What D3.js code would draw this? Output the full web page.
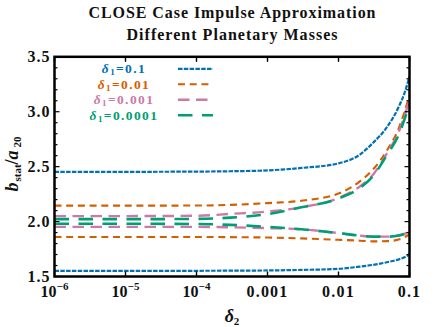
<!DOCTYPE html>
<html>
<head>
<meta charset="utf-8">
<script src="https://cdn.jsdelivr.net/npm/d3@7"></script>
<style>
  html, body { margin: 0; padding: 0; background: #fff; }
  svg { display: block; font-family: "Liberation Serif", "DejaVu Serif", serif; font-weight: bold; }
</style>
</head>
<body>
<div id="chart"></div>
<script>
const delta2 = [1e-6, 1e-5, 1e-4, 3e-4, 1e-3, 3e-3, 0.01, 0.02, 0.03, 0.05, 0.07, 0.085, 0.1];

// b_stat / a_20, upper and lower branch for each delta_1
const d1_0p1_upper    = [2.453, 2.453, 2.455, 2.458, 2.466, 2.488, 2.53, 2.61, 2.711, 2.875, 3.04, 3.17, 3.32];
const d1_0p1_lower    = [1.551, 1.551, 1.552, 1.553, 1.555, 1.56, 1.57, 1.59, 1.605, 1.632, 1.655, 1.675, 1.70];
const d1_0p01_upper   = [2.145, 2.145, 2.146, 2.152, 2.168, 2.19, 2.255, 2.366, 2.468, 2.665, 2.844, 2.998, 3.15];
const d1_0p01_lower   = [1.86, 1.86, 1.86, 1.858, 1.855, 1.847, 1.834, 1.826, 1.82, 1.822, 1.836, 1.858, 1.885];
const d1_0p001_upper  = [2.05, 2.05, 2.053, 2.07, 2.091, 2.13, 2.215, 2.32, 2.42, 2.64, 2.81, 2.96, 3.11];
const d1_0p001_lower  = [1.952, 1.952, 1.952, 1.948, 1.94, 1.93, 1.895, 1.872, 1.863, 1.863, 1.873, 1.888, 1.912];
const d1_0p0001_upper = [2.022, 2.022, 2.024, 2.036, 2.068, 2.13, 2.21, 2.306, 2.407, 2.624, 2.785, 2.93, 3.07];
const d1_0p0001_lower = [1.98, 1.98, 1.978, 1.97, 1.952, 1.93, 1.895, 1.872, 1.863, 1.863, 1.873, 1.888, 1.912];

const legendLabels = ["0.1", "0.01", "0.001", "0.0001"];
const seriesColors = ["#0072B2", "#D55E00", "#CC79A7", "#009E73"];
const seriesDashes = ["4.5,1.3", "7,4.7", "11.5,6.5", "14.5,9.5"];
const seriesWidths = [2.2, 2.1, 2.4, 2.6];

const xTicks = [1e-6, 1e-5, 1e-4, 1e-3, 1e-2, 1e-1];
const xTickLabels = [["10", "\u22126"], ["10", "\u22125"], ["10", "\u22124"], ["0.001"], ["0.01"], ["0.1"]];
const yTicks = [1.5, 2.0, 2.5, 3.0, 3.5];

const W = 436, H = 327;
const plot = { left: 54.5, right: 409.5, top: 56.8, bottom: 276.5 };

const svg = d3.select("#chart").append("svg")
  .attr("width", W).attr("height", H);

const x = d3.scaleLog().domain([1e-6, 0.1]).range([plot.left, plot.right]);
const y = d3.scaleLinear().domain([1.5, 3.5]).range([plot.bottom, plot.top]);

// title
const titleLines = [
  { text: "CLOSE Case Impulse Approximation", y: 17.5, len: 287 },
  { text: "Different Planetary Masses", y: 40, len: 211 }
];
svg.selectAll(".title").data(titleLines).enter().append("text")
  .attr("class", "title")
  .attr("x", (plot.left + plot.right) / 2)
  .attr("y", d => d.y)
  .attr("text-anchor", "middle")
  .attr("font-size", 16)
  .attr("textLength", d => d.len)
  .attr("lengthAdjust", "spacing")
  .attr("fill", "#111")
  .text(d => d.text);

// clip
svg.append("clipPath").attr("id", "clip")
  .append("rect")
  .attr("x", plot.left).attr("y", plot.top)
  .attr("width", plot.right - plot.left).attr("height", plot.bottom - plot.top);

// curves
const groups = [
  [d1_0p1_upper, d1_0p1_lower],
  [d1_0p01_upper, d1_0p01_lower],
  [d1_0p001_upper, d1_0p001_lower],
  [d1_0p0001_upper, d1_0p0001_lower]
];

const line = d3.line()
  .x(d => x(d[0]))
  .y(d => y(d[1]))
  .curve(d3.curveMonotoneX);

const curves = svg.append("g").attr("clip-path", "url(#clip)");
groups.forEach((pair, i) => {
  pair.forEach(vals => {
    curves.append("path")
      .datum(delta2.map((d, k) => [d, vals[k]]))
      .attr("d", line)
      .attr("fill", "none")
      .attr("stroke", seriesColors[i])
      .attr("stroke-width", seriesWidths[i])
      .attr("stroke-dasharray", seriesDashes[i]);
  });
});

// frame ticks
const ticks = svg.append("g").attr("stroke", "#000");
const yMinor = d3.range(15, 36).map(v => v / 10);
yMinor.forEach(v => {
  const major = Math.abs(v * 2 - Math.round(v * 2)) < 1e-6;
  const len = major ? 5 : 3;
  ticks.append("line")
    .attr("x1", plot.left).attr("x2", plot.left + len)
    .attr("y1", y(v)).attr("y2", y(v)).attr("stroke-width", 1.2);
  ticks.append("line")
    .attr("x1", plot.right).attr("x2", plot.right - len)
    .attr("y1", y(v)).attr("y2", y(v)).attr("stroke-width", 1.2);
});
xTicks.forEach(v => {
  ticks.append("line")
    .attr("x1", x(v)).attr("x2", x(v))
    .attr("y1", plot.bottom).attr("y2", plot.bottom - 5).attr("stroke-width", 1.4);
  ticks.append("line")
    .attr("x1", x(v)).attr("x2", x(v))
    .attr("y1", plot.top).attr("y2", plot.top + 5).attr("stroke-width", 1.4);
});

// frame
svg.append("rect")
  .attr("x", plot.left).attr("y", plot.top)
  .attr("width", plot.right - plot.left).attr("height", plot.bottom - plot.top)
  .attr("fill", "none")
  .attr("stroke", "#000")
  .attr("stroke-width", 2.5);

// y tick labels
svg.selectAll(".ylab").data(yTicks).enter().append("text")
  .attr("class", "ylab")
  .attr("x", plot.left - 4)
  .attr("y", d => y(d) + 5.5)
  .attr("text-anchor", "end")
  .attr("font-size", 16)
  .attr("letter-spacing", 1)
  .attr("fill", "#111")
  .text(d => d.toFixed(1));

// x tick labels
xTicks.forEach((v, i) => {
  const lab = xTickLabels[i];
  const t = svg.append("text")
    .attr("x", x(v))
    .attr("y", 296.5)
    .attr("text-anchor", "middle")
    .attr("font-size", 16)
    .attr("letter-spacing", lab.length > 1 ? 0 : 1.2)
    .attr("fill", "#111");
  t.append("tspan").text(lab[0]);
  if (lab.length > 1) {
    t.append("tspan").attr("font-size", 11).attr("dy", -7).text(lab[1]);
  }
});

// x axis title
const xt = svg.append("text")
  .attr("x", 232).attr("y", 322)
  .attr("text-anchor", "middle")
  .attr("fill", "#111");
xt.append("tspan").attr("font-style", "italic").attr("font-size", 18).text("\u03b4");
xt.append("tspan").attr("font-size", 11).attr("dy", 3).text("2");

// y axis title
const yt = svg.append("text")
  .attr("transform", "translate(18,164) rotate(-90)")
  .attr("text-anchor", "middle")
  .attr("fill", "#111");
yt.append("tspan").attr("font-style", "italic").attr("font-size", 18).text("b");
yt.append("tspan").attr("font-size", 11).attr("dy", 3).attr("dx", 1).text("stat");
yt.append("tspan").attr("font-size", 18).attr("dy", -3).text("/");
yt.append("tspan").attr("font-style", "italic").attr("font-size", 18).text("a");
yt.append("tspan").attr("font-size", 11).attr("dy", 3).attr("dx", 3).text("20");

// legend
const legendRows = [68.8, 84.3, 99.8, 115.3];
legendLabels.forEach((lab, i) => {
  const t = svg.append("text")
    .attr("x", 124).attr("y", legendRows[i] + 4.6)
    .attr("text-anchor", "middle")
    .attr("font-size", 13.5)
    .attr("letter-spacing", 1.4)
    .attr("fill", seriesColors[i]);
  t.append("tspan").attr("font-style", "italic").text("\u03b4");
  t.append("tspan").attr("font-size", 9).attr("dy", 2).text("1");
  t.append("tspan").attr("dy", -2).text("=" + lab);

  svg.append("line")
    .attr("x1", 178).attr("x2", 213)
    .attr("y1", legendRows[i]).attr("y2", legendRows[i])
    .attr("stroke", seriesColors[i])
    .attr("stroke-width", seriesWidths[i])
    .attr("stroke-dasharray", seriesDashes[i]);
});
</script>
</body>
</html>
